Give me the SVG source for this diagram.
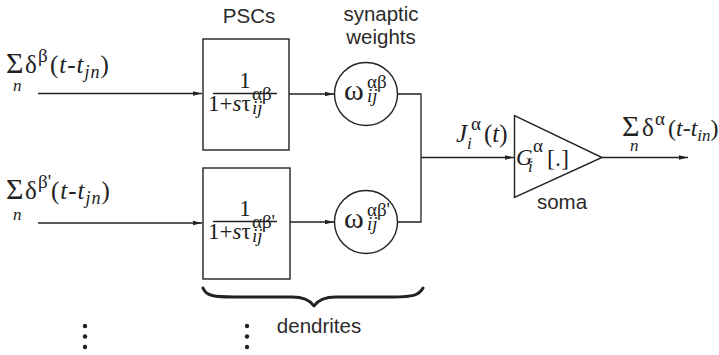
<svg xmlns="http://www.w3.org/2000/svg" width="719" height="355" viewBox="0 0 719 355">
<style>
.ln{stroke:#222;stroke-width:1.3;fill:none}
.box{stroke:#222;stroke-width:1.4;fill:#fff}
.m{font-family:"Liberation Serif","Times New Roman",serif;fill:#222}
.i{font-style:italic}
.s{font-family:"Liberation Sans",Arial,sans-serif;fill:#2a2a2a;font-size:20.5px}
.dot{fill:#222}
</style>
<defs>
<marker id="ah" markerUnits="userSpaceOnUse" markerWidth="10" markerHeight="6" refX="9" refY="3" orient="auto">
<path d="M0,0.8 L9,3 L0,5.2 z" fill="#222"/>
</marker>
</defs>

<g id="connectors">
<line class="ln" x1="38" y1="93.5" x2="202" y2="93.5" marker-end="url(#ah)"/>
<line class="ln" x1="38" y1="223" x2="202" y2="223" marker-end="url(#ah)"/>
<line class="ln" x1="289" y1="94" x2="334" y2="94" marker-end="url(#ah)"/>
<line class="ln" x1="290" y1="222" x2="334" y2="222" marker-end="url(#ah)"/>
<path class="ln" d="M398,94 H421 V222 H398"/>
<line class="ln" x1="421" y1="157.5" x2="514" y2="157.5" marker-end="url(#ah)"/>
<line class="ln" x1="602" y1="157.5" x2="688" y2="157.5" marker-end="url(#ah)"/>
</g>

<g id="input1">
<text class="m" x="6" y="73" font-size="30">Σ</text>
<text class="m i" x="13" y="91" font-size="17">n</text>
<text class="m" x="25" y="73" font-size="25">δ</text>
<text class="m" x="38" y="62" font-size="19">β</text>
<text class="m" x="50" y="73" font-size="25" letter-spacing="1">(<tspan class="i">t</tspan>-<tspan class="i">t</tspan><tspan class="i" font-size="18" dy="5">jn</tspan><tspan dy="-5">)</tspan></text>
</g>

<g id="input2">
<text class="m" x="6" y="199" font-size="30">Σ</text>
<text class="m i" x="13" y="220" font-size="17">n</text>
<text class="m" x="25" y="199" font-size="25">δ</text>
<text class="m" x="38" y="188" font-size="19">β'</text>
<text class="m" x="51" y="199" font-size="25" letter-spacing="1">(<tspan class="i">t</tspan>-<tspan class="i">t</tspan><tspan class="i" font-size="18" dy="5">jn</tspan><tspan dy="-5">)</tspan></text>
</g>

<g id="psc1">
<rect class="box" x="203" y="39" width="86" height="111"/>
<text class="m" x="245" y="88" font-size="23" text-anchor="middle">1</text>
<line class="ln" x1="213" y1="93.5" x2="277" y2="93.5"/>
<text class="m" x="208" y="111" font-size="23">1+<tspan class="i">s</tspan>τ</text>
<text class="m" x="252" y="100" font-size="19">αβ</text>
<text class="m i" x="252" y="114" font-size="19">ij</text>
</g>

<g id="psc2">
<rect class="box" x="203" y="168" width="87" height="111"/>
<text class="m" x="245" y="216" font-size="23" text-anchor="middle">1</text>
<line class="ln" x1="213" y1="221.5" x2="277" y2="221.5"/>
<text class="m" x="208" y="239" font-size="23">1+<tspan class="i">s</tspan>τ</text>
<text class="m" x="252" y="228" font-size="19">αβ'</text>
<text class="m i" x="252" y="242" font-size="19">ij</text>
</g>

<g id="w1">
<circle class="box" cx="366" cy="94" r="31.5"/>
<text class="m" x="344" y="100" font-size="30">ω</text>
<text class="m" x="367" y="88" font-size="19">αβ</text>
<text class="m i" x="367" y="102" font-size="19">ij</text>
</g>

<g id="w2">
<circle class="box" cx="366" cy="222" r="31.5"/>
<text class="m" x="344" y="228" font-size="30">ω</text>
<text class="m" x="367" y="216" font-size="19">αβ'</text>
<text class="m i" x="367" y="230" font-size="19">ij</text>
</g>

<g id="current">
<text class="m i" x="456" y="142" font-size="25">J</text>
<text class="m i" x="467" y="149" font-size="17">i</text>
<text class="m" x="471" y="130" font-size="19">α</text>
<text class="m" x="484" y="142" font-size="25">(<tspan class="i">t</tspan>)</text>
</g>

<g id="soma">
<polygon class="box" points="514.5,115.5 514.5,197.5 602,157.5"/>
<text class="m i" x="516" y="165" font-size="23">G</text>
<text class="m i" x="528" y="172" font-size="17">i</text>
<text class="m" x="533" y="152" font-size="19">α</text>
<text class="m" x="547" y="166" font-size="24">[.]</text>
<text class="s" x="562" y="209" text-anchor="middle">soma</text>
</g>

<g id="output">
<text class="m" x="622" y="136" font-size="30">Σ</text>
<text class="m i" x="630" y="151" font-size="17">n</text>
<text class="m" x="642" y="136" font-size="25">δ</text>
<text class="m" x="655" y="125" font-size="19">α</text>
<text class="m" x="668" y="136" font-size="24">(<tspan class="i">t</tspan>-<tspan class="i">t</tspan><tspan class="i" font-size="17" dy="5">in</tspan><tspan dy="-5">)</tspan></text>
</g>

<g id="labels">
<text class="s" x="249" y="23" text-anchor="middle">PSCs</text>
<text class="s" x="381" y="21" text-anchor="middle">synaptic</text>
<text class="s" x="381" y="44" text-anchor="middle">weights</text>
<text class="s" x="319" y="333" text-anchor="middle">dendrites</text>
</g>

<g id="brace">
<path d="M203,288 C206,296 214,297 235,297 L292,297 C304,297 310,300 314,306 C318,300 324,297 336,297 L393,297 C414,297 419,295 423,288" fill="none" stroke="#222" stroke-width="3" stroke-linecap="round" stroke-linejoin="round"/>
</g>

<g id="dots">
<circle class="dot" cx="85" cy="326" r="2.2"/>
<circle class="dot" cx="85" cy="336.5" r="2.2"/>
<circle class="dot" cx="85" cy="347" r="2.2"/>
<circle class="dot" cx="247" cy="326" r="2.2"/>
<circle class="dot" cx="247" cy="336.5" r="2.2"/>
<circle class="dot" cx="247" cy="347" r="2.2"/>
</g>
</svg>
